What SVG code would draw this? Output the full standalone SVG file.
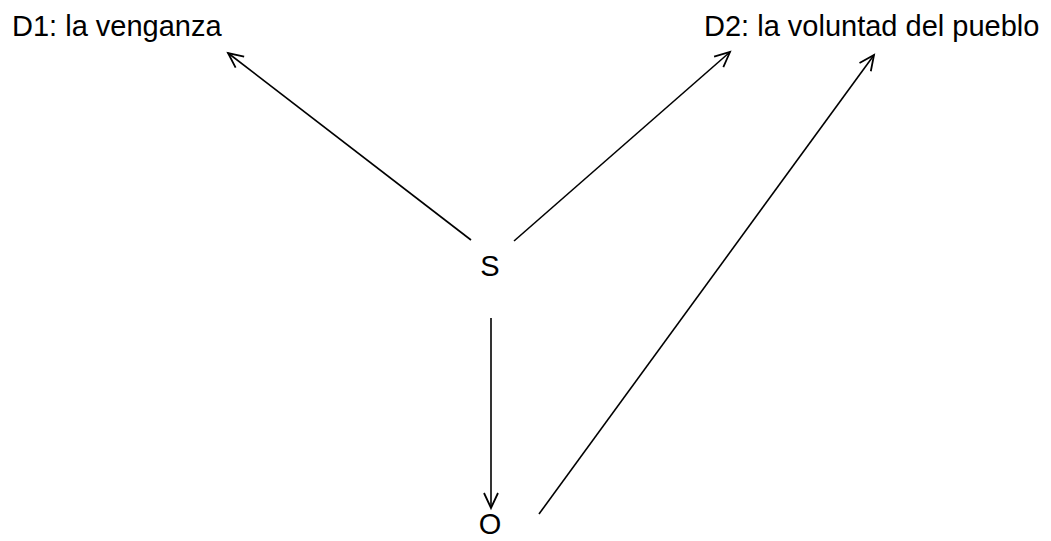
<svg xmlns="http://www.w3.org/2000/svg" width="1051" height="541" viewBox="0 0 1051 541">
<style>
.lbl{font-family:"Liberation Sans",Arial,sans-serif;font-size:29px;fill:#000}
.edge{stroke:#000;stroke-width:1.6;fill:none;marker-end:url(#ah)}
</style>
<defs>
<marker id="ah" markerUnits="userSpaceOnUse" markerWidth="20" markerHeight="20" viewBox="-16 -10 20 20" refX="0" refY="0" orient="auto">
<path d="M-15,-7 L0,0 L-15,7" fill="none" stroke="#000" stroke-width="1.8"/>
</marker>
</defs>
<rect width="1051" height="541" fill="#fff"/>
<g id="connectors">
<line class="edge" x1="471" y1="240" x2="228" y2="53"/>
<line class="edge" x1="514" y1="241" x2="730" y2="52"/>
<line class="edge" x1="491" y1="318" x2="491" y2="508"/>
<line class="edge" x1="539" y1="514" x2="874" y2="55"/>
</g>
<g id="D1"><text class="lbl" x="12" y="36">D1: la venganza</text></g>
<g id="D2"><text class="lbl" x="704" y="36">D2: la voluntad del pueblo</text></g>
<g id="S"><text class="lbl" x="490" y="276" text-anchor="middle">S</text></g>
<g id="O"><text class="lbl" x="490" y="534" text-anchor="middle">O</text></g>
</svg>
